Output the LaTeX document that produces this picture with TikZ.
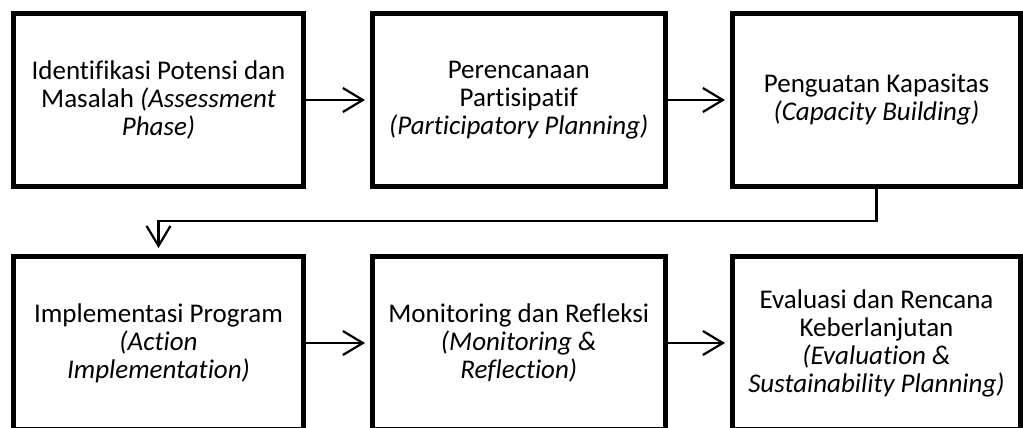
\documentclass[tikz,border=0pt]{standalone}
\usepackage{fontspec}
\setmainfont[Ligatures=NoCommon]{Carlito}
\usetikzlibrary{arrows.meta}
\begin{document}
\begin{tikzpicture}[x=1pt,y=-1pt,
  box/.style={draw=black,line width=5pt,minimum height=173pt,align=center,inner sep=0pt,
    font=\fontsize{27}{28}\selectfont},
  flow/.style={line width=2.2pt,-{Straight Barb[length=20pt,width=24pt]}, shorten >=5pt}]
\useasboundingbox (0,0) rectangle (1023,428);
\node[box,minimum width=290pt] (b1) at (158.5,100) {Identifikasi Potensi dan\\Masalah \textit{(Assessment}\\\textit{Phase)}};
\node[box,minimum width=292.5pt] (b2) at (518.75,100) {Perencanaan\\Partisipatif\\\textit{(Participatory Planning)}};
\node[box,minimum width=288pt] (b3) at (876.5,100) {Penguatan Kapasitas\\\textit{(Capacity Building)}};
\node[box,minimum width=290pt] (b4) at (158.5,343) {Implementasi Program\\\textit{(Action}\\\textit{Implementation)}};
\node[box,minimum width=292.5pt] (b5) at (518.75,343) {Monitoring dan Refleksi\\\textit{(Monitoring \&}\\\textit{Reflection)}};
\node[box,minimum width=288pt] (b6) at (876.5,343) {Evaluasi dan Rencana\\Keberlanjutan\\\textit{(Evaluation \&}\\\textit{Sustainability Planning)}};
\coordinate (mid) at (0,221);
\draw[flow] (b1) -- (b2);
\draw[flow] (b2) -- (b3);
\draw[flow] (b4) -- (b5);
\draw[flow] (b5) -- (b6);
\draw[flow,shorten >=6pt] (b3.south) -- (b3.south |- mid) -| (b4.north);
\end{tikzpicture}
\end{document}
